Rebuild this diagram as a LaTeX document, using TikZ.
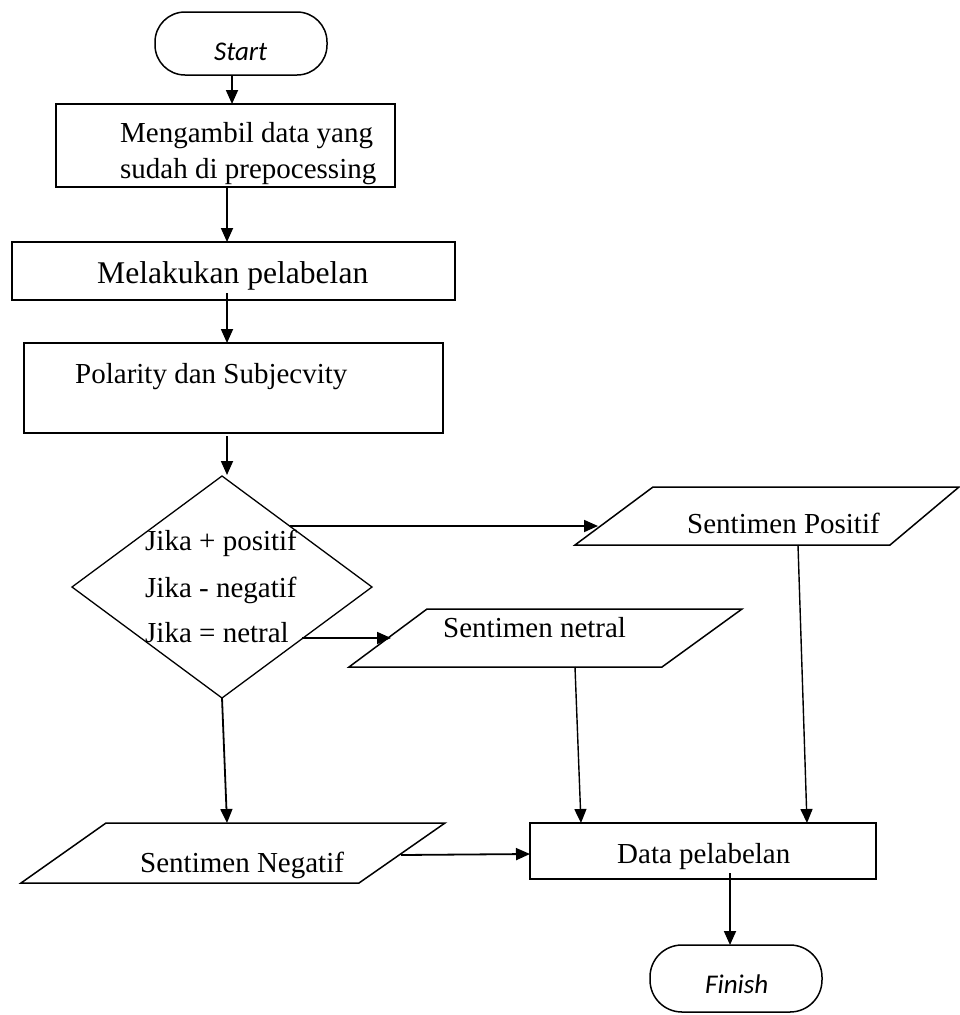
\documentclass[tikz,border=0pt]{standalone}
\usepackage{fontspec}
\setmainfont{Liberation Serif}
\newfontfamily\termfont{Carlito}
\usetikzlibrary{arrows.meta}
\begin{document}
\begin{tikzpicture}[x=1pt,y=-1pt,
  shapeline/.style={draw=black,line width=1.5pt},
  procbox/.style={shapeline,rectangle,inner sep=0pt},
  terminal/.style={shapeline,rectangle,rounded corners=30pt,inner sep=0pt,
    minimum width=172pt},
  txt/.style={anchor=base west,inner sep=0pt,font=\fontsize{29}{35}\selectfont},
  bigtxt/.style={txt,font=\fontsize{31.6}{37}\selectfont},
  termtxt/.style={anchor=base west,inner sep=0pt,font=\termfont\itshape\fontsize{27}{32}\selectfont},
  flow/.style={line width=1.8pt,-{Triangle[length=14pt,width=12pt]}},
  thinflow/.style={line width=1.4pt,-{Triangle[length=14pt,width=12pt]}}]
\useasboundingbox (0,0) rectangle (960,1015);

% terminals
\node[terminal,minimum height=63pt] (start) at (241,43.5) {};
\node[termtxt] (starttxt) at (214,60) {Start};
\node[terminal,minimum height=67pt,rounded corners=32pt] (finish) at (736,978.5) {};
\node[termtxt] (finishtxt) at (705,993) {Finish};

% process boxes
\node[procbox,minimum width=339pt,minimum height=83pt] (box1) at (225.5,145.5) {};
\node[txt] (box1a) at (120,142) {Mengambil data yang};
\node[txt] (box1b) at (120,178) {sudah di prepocessing};
\node[procbox,minimum width=443pt,minimum height=58pt] (box2) at (233.5,271) {};
\node[bigtxt] (box2txt) at (97,283) {Melakukan pelabelan};
\node[procbox,minimum width=419pt,minimum height=90pt] (box3) at (233.5,388) {};
\node[txt] (box3txt) at (75,383) {Polarity dan Subjecvity};
\node[procbox,minimum width=346pt,minimum height=56pt] (data) at (703,851) {};
\node[txt] (datatxt) at (617,863) {Data pelabelan};

% decision
\draw[line width=1.3pt] (222,476) -- (372,587) -- (222,698) -- (72,587) -- cycle;
\node[txt] (cond1) at (145,550) {Jika + positif};
\node[txt] (cond2) at (145,597) {Jika - negatif};
\node[txt] (cond3) at (145,642) {Jika = netral};

% data (parallelogram) shapes
\draw[shapeline] (575,545) -- (653,487) -- (959,487) -- (890,545) -- cycle;
\node[txt] (postxt) at (687,533) {Sentimen Positif};
\draw[shapeline] (349,667) -- (427,609) -- (742,609) -- (662,667) -- cycle;
\node[txt] (nettxt) at (443,637) {Sentimen netral};
\draw[shapeline] (21,883) -- (106,823) -- (445,823) -- (359,883) -- cycle;
\node[txt] (negtxt) at (140,872) {Sentimen Negatif};

% connection points
\coordinate (s1) at (232,75);   \coordinate (e1) at (232,104);
\coordinate (s2) at (227,187);  \coordinate (e2) at (227,242);
\coordinate (s3) at (227,293);  \coordinate (e3) at (227,343);
\coordinate (s4) at (227,436);  \coordinate (e4) at (227,475);
\coordinate (dR) at (290,526);  \coordinate (posL) at (598,526);
\coordinate (dN) at (302,638);  \coordinate (netL) at (391,638);
\coordinate (dB) at (222,698);  \coordinate (negT) at (227,823);
\coordinate (netB) at (575,667); \coordinate (dataT1) at (581,823);
\coordinate (posB) at (798,545); \coordinate (dataT2) at (807,823);
\coordinate (negR) at (401,855); \coordinate (dataL) at (530,854);
\coordinate (dataB) at (730,873); \coordinate (finT) at (730,945);

% connectors
\draw[flow] (s1) -- (e1);
\draw[flow] (s2) -- (e2);
\draw[flow] (s3) -- (e3);
\draw[flow] (s4) -- (e4);
\draw[flow] (dR) -- (posL);
\draw[flow] (dN) -- (netL);
\draw[flow] (dB) -- (negT);
\draw[thinflow] (netB) -- (dataT1);
\draw[thinflow] (posB) -- (dataT2);
\draw[flow] (negR) -- (dataL);
\draw[flow] (dataB) -- (finT);
\end{tikzpicture}
\end{document}
